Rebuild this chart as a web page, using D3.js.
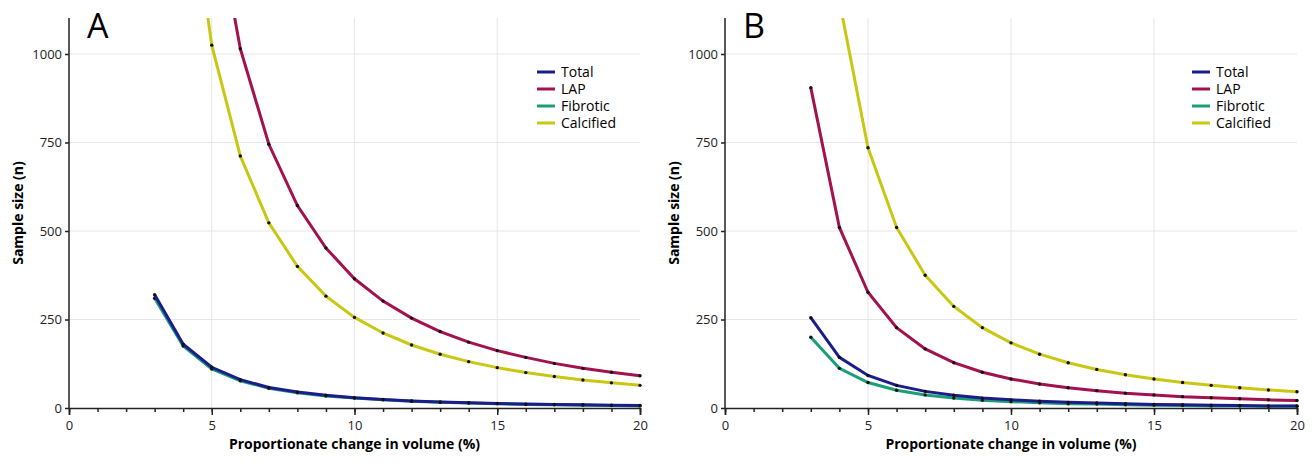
<!DOCTYPE html>
<html><head><meta charset="utf-8">
<script src="https://cdn.jsdelivr.net/npm/d3@7"></script>
<style>body{margin:0;background:#fff;font-family:"Open Sans",sans-serif}</style>
</head><body><svg id="c" width="1314" height="470"></svg>
<script>
const xs = d3.range(3, 21);
const seriesNames = ["Total", "LAP", "Fibrotic", "Calcified"];
const colors = ["#1c1c8a", "#a3124f", "#1a9e77", "#c9c712"];
const totalA = [320, 180, 115, 80, 58, 45, 36, 29, 24, 20, 17, 15, 13, 11, 10, 9, 8, 7];
const lapA = [4055, 2280, 1460, 1015, 745, 572, 452, 365, 302, 254, 216, 186, 162, 143, 126, 112, 101, 91];
const fibA = [310, 175, 110, 77, 56, 43, 34, 28, 23, 19, 16, 14, 12, 10, 9, 8, 7, 6];
const calcA = [2845, 1600, 1025, 712, 523, 400, 316, 256, 212, 178, 152, 131, 114, 100, 89, 79, 71, 64];
const totalB = [255, 143, 92, 64, 47, 36, 28, 23, 19, 16, 14, 12, 10, 9, 8, 7, 6, 6];
const lapB = [905, 510, 327, 227, 167, 128, 101, 82, 68, 57, 49, 42, 37, 32, 29, 26, 23, 21];
const fibB = [200, 112, 72, 50, 37, 28, 22, 18, 15, 12, 11, 9, 8, 7, 6, 6, 5, 5];
const calcB = [2040, 1150, 735, 510, 375, 287, 227, 184, 152, 128, 109, 94, 82, 72, 64, 57, 51, 46];
const yTicks = [0, 250, 500, 750, 1000];

const svg = d3.select("#c");
const panels = [
  {label: "A", x0: 69, x1: 640, data: [totalA, lapA, fibA, calcA], legX: 537},
  {label: "B", x0: 725, x1: 1297, data: [totalB, lapB, fibB, calcB], legX: 1192}
];
const yTop = 18, yBot = 408;

panels.forEach((p, pi) => {
  const x = d3.scaleLinear().domain([0, 20]).range([p.x0, p.x1]);
  const y = d3.scaleLinear().domain([0, 1000]).range([yBot, 54]);
  const g = svg.append("g");
  const clipId = "clip" + pi;
  g.append("clipPath").attr("id", clipId).append("rect")
    .attr("x", p.x0).attr("y", yTop).attr("width", p.x1 - p.x0 + 4).attr("height", yBot - yTop + 2);

  // grid
  g.selectAll(".gx").data([5, 10, 15]).join("line")
    .attr("x1", d => x(d)).attr("x2", d => x(d)).attr("y1", yTop).attr("y2", yBot)
    .attr("stroke", "#e6e6e6");
  g.selectAll(".gy").data(yTicks.slice(1)).join("line")
    .attr("x1", p.x0).attr("x2", p.x1).attr("y1", d => y(d)).attr("y2", d => y(d))
    .attr("stroke", "#e6e6e6");

  const xa = g.append("g").attr("transform", `translate(0,${yBot})`)
    .call(d3.axisBottom(x).tickValues([0, 5, 10, 15, 20]).tickSize(7).tickPadding(6));
  g.append("g").attr("transform", `translate(0,${yBot})`)
    .call(d3.axisBottom(x).tickValues(d3.range(0, 21)).tickSize(4).tickFormat(""))
    .call(a => a.selectAll("line").attr("stroke", "#222").attr("stroke-width", 1.5))
    .select(".domain").remove();
  const ya = g.append("g").attr("transform", `translate(${p.x0},0)`)
    .call(d3.axisLeft(y).tickValues(yTicks).tickSize(4).tickFormat(d3.format("d")));
  ya.select(".domain").attr("d", `M-0,${yTop}V${yBot}`);
  [xa, ya].forEach(a => {
    a.selectAll("text").attr("font-size", 13).attr("fill", "#222").attr("font-family", "Open Sans");
    a.selectAll("line,path").attr("stroke", "#222").attr("stroke-width", 1.5);
  });

  g.append("text").attr("x", (p.x0 + p.x1) / 2).attr("y", 449).attr("text-anchor", "middle")
    .attr("font-size", 14).attr("font-weight", "bold").text("Proportionate change in volume (%)");
  g.append("text").attr("transform", `translate(${p.x0 - 46},${(yTop + yBot) / 2}) rotate(-90)`)
    .attr("text-anchor", "middle").attr("font-size", 14).attr("font-weight", "bold").text("Sample size (n)");
  g.append("text").attr("x", p.x0 + 18).attr("y", 38).attr("font-size", 34).text(p.label);

  const line = d3.line().x((d, i) => x(xs[i])).y(d => y(d));
  const plot = g.append("g").attr("clip-path", `url(#${clipId})`);
  [2, 0, 3, 1].forEach(si => {
    const vals = p.data[si];
    plot.append("path").attr("d", line(vals)).attr("fill", "none")
      .attr("stroke", colors[si]).attr("stroke-width", 3);
    plot.selectAll(null).data(vals).join("circle")
      .attr("cx", (d, i) => x(xs[i])).attr("cy", d => y(d)).attr("r", 1.7).attr("fill", "#111");
  });

  const leg = g.append("g").attr("transform", `translate(${p.legX},72)`);
  seriesNames.forEach((n, i) => {
    leg.append("line").attr("x1", 0).attr("x2", 18).attr("y1", i * 17).attr("y2", i * 17)
      .attr("stroke", colors[i]).attr("stroke-width", 3);
    leg.append("text").attr("x", 24).attr("y", i * 17 + 5).attr("font-size", 14).text(n);
  });
});
</script></body></html>
